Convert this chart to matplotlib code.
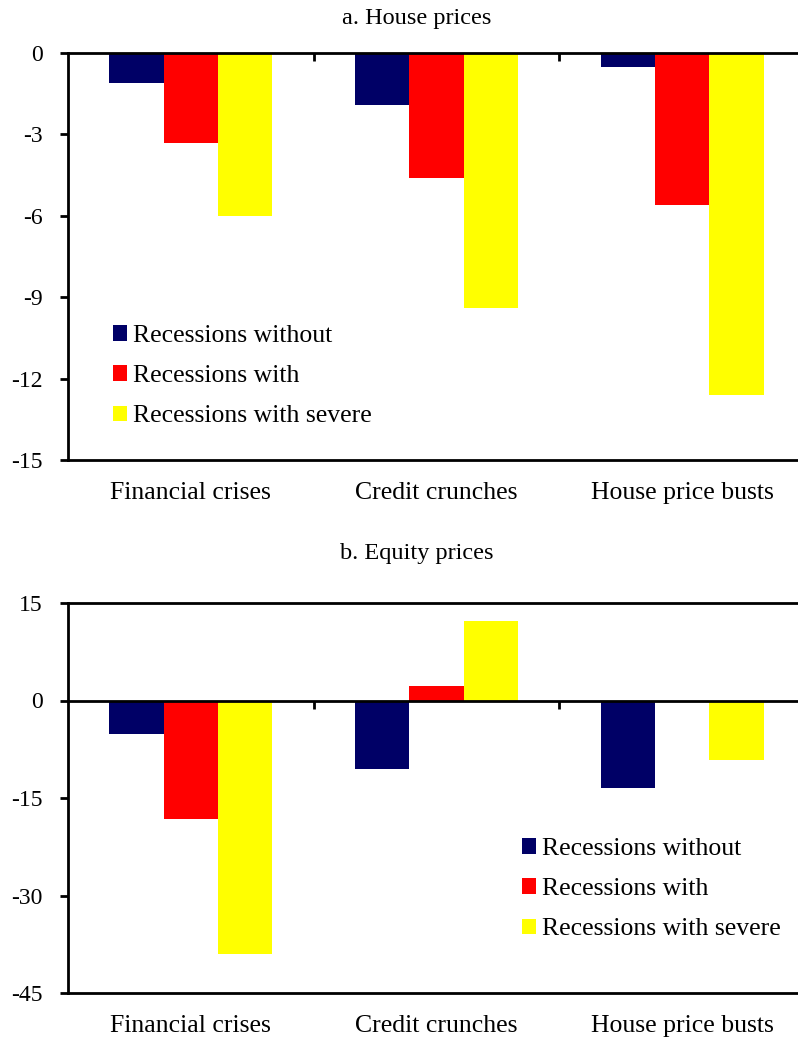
import numpy as np
import matplotlib
matplotlib.use('Agg')
import matplotlib.pyplot as plt

plt.rcParams['font.family'] = ['Liberation Serif', 'DejaVu Serif']

categories = ['Financial crises', 'Credit crunches', 'House price busts']
series = ['Recessions without', 'Recessions with', 'Recessions with severe']
colors = ['#000066', '#FF0000', '#FFFF00']

house = [[-1.1, -1.9, -0.5],
         [-3.3, -4.6, -5.6],
         [-6.0, -9.4, -12.6]]
equity = [[-5.1, -10.6, -13.5],
          [-18.3, 2.2, 0.0],
          [-39.0, 12.2, -9.1]]

W, H = 798, 1039
fig = plt.figure(figsize=(W / 100, H / 100), dpi=100)

def px_axes(left, top, right, bottom):
    return fig.add_axes([left / W, 1 - bottom / H, (right - left) / W, (bottom - top) / H])

ax1 = px_axes(68, 53, 805, 460)
ax2 = px_axes(68, 603, 805, 993)

FS = 18.5
x = np.arange(len(categories))
bw = 0.2215

def draw(ax, data, ylim, yticks, title, title_y, leg_xy):
    for i, (vals, c) in enumerate(zip(data, colors)):
        ax.bar(x + (i - 1) * bw, vals, bw, color=c, label=series[i],
               edgecolor='none', zorder=2)
    ax.set_xlim(-0.5, 2.5)
    ax.set_ylim(*ylim)
    ax.set_yticks(yticks)
    ax.set_yticklabels([str(t) for t in yticks])
    ax.spines['right'].set_visible(False)
    for s in ['left', 'bottom', 'top']:
        ax.spines[s].set_linewidth(2)
    ax.spines['top'].set_position(('data', 0))
    if ylim[1] > 0:
        ax.axhline(ylim[1], color='k', lw=2, clip_on=False, zorder=3)
    ax.spines['left'].set_bounds(ylim[0], ylim[1])
    ax.set_xticks(x)
    ax.set_xticklabels(categories)
    ax.set_xticks([0.5, 1.5], minor=True)
    ax.tick_params(axis='x', which='major', length=0, pad=16, labelsize=FS)
    ax.tick_params(axis='x', which='minor', top=True, bottom=False,
                   direction='in', length=6, width=2)
    ax.tick_params(axis='y', length=6, width=2, pad=12, labelsize=17)
    fig.text(417 / W, 1 - title_y / H, title, ha='center', va='baseline', fontsize=17.5)
    ax.legend(loc='upper left', bbox_to_anchor=(leg_xy[0] / W, 1 - leg_xy[1] / H),
              bbox_transform=fig.transFigure, frameon=False, fontsize=FS,
              handlelength=0.55, handleheight=0.55, handletextpad=0.22,
              labelspacing=0.71, borderpad=0, borderaxespad=0)

draw(ax1, house, (-15, 0), [0, -3, -6, -9, -12, -15], 'a. House prices', 24, (113, 325))
draw(ax2, equity, (-45, 15), [15, 0, -15, -30, -45], 'b. Equity prices', 559, (522, 838))

fig.savefig('out.png', dpi=100)
